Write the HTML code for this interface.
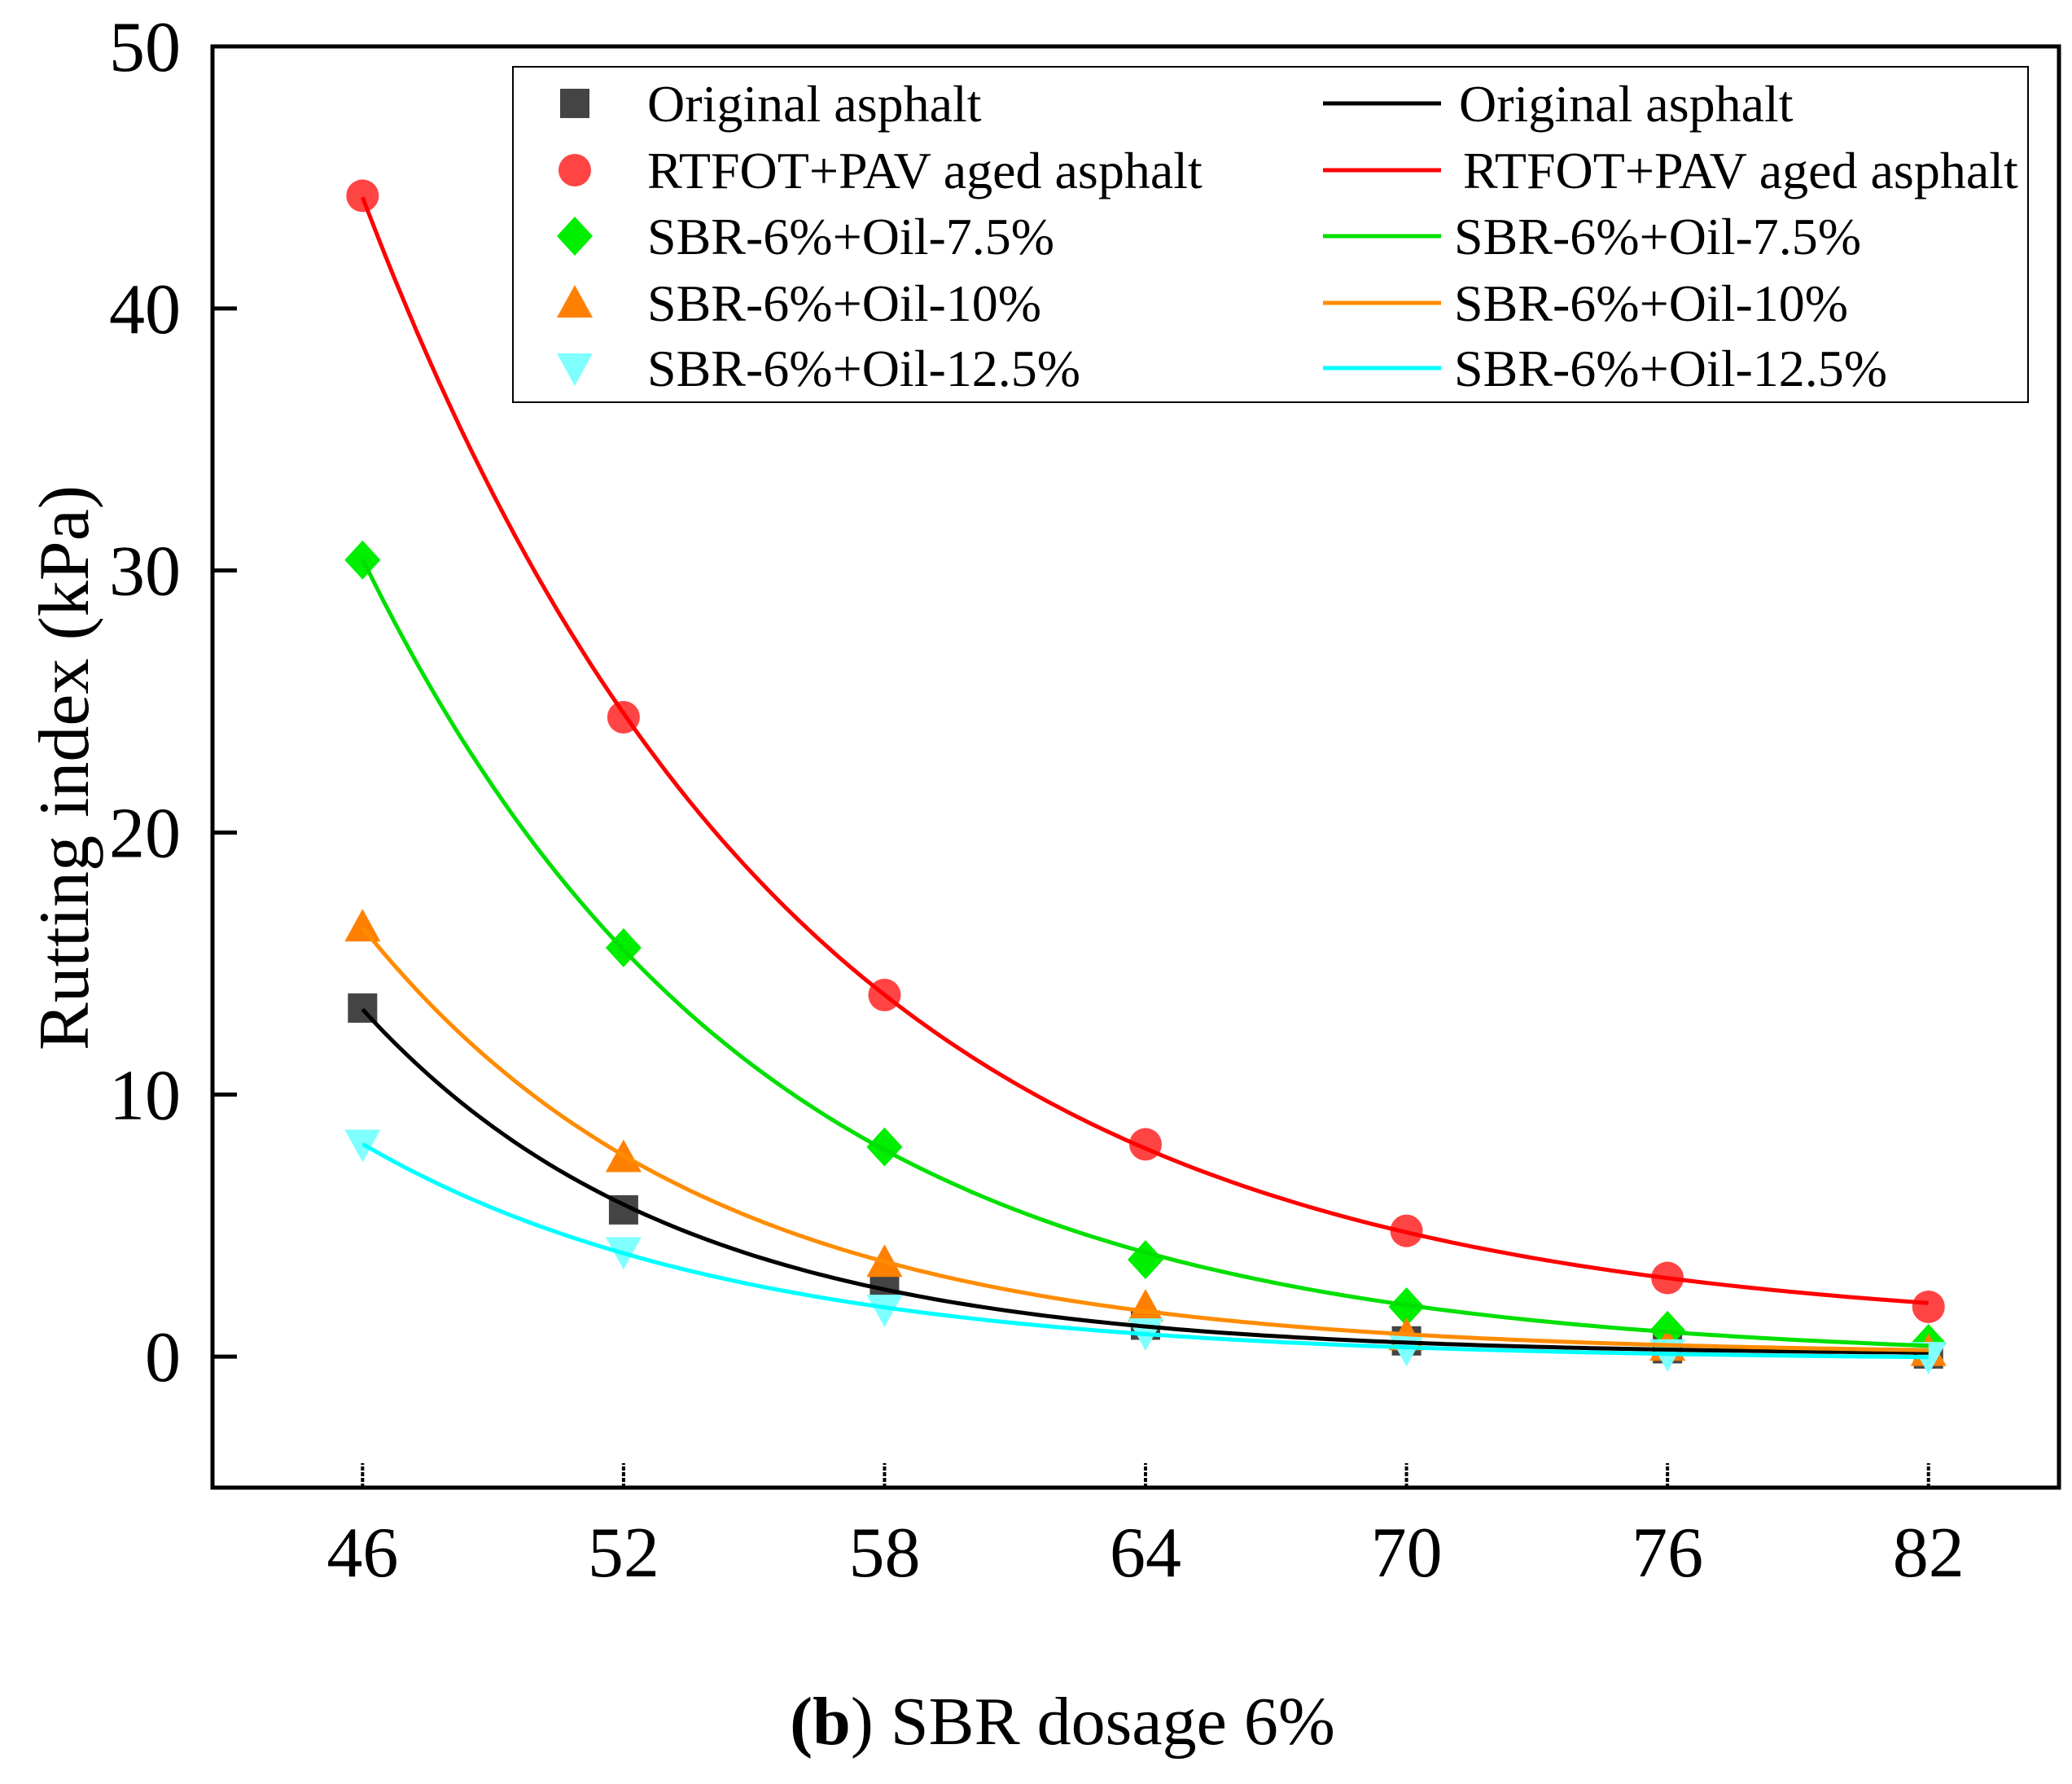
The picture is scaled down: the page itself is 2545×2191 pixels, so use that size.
<!DOCTYPE html>
<html><head><meta charset="utf-8"><style>
html,body{margin:0;padding:0;background:#fff;}
svg{display:block;}
text{font-family:"Liberation Serif",serif;}
</style></head><body>
<svg id="chart" width="2545" height="2191" viewBox="0 0 2545 2191" xmlns="http://www.w3.org/2000/svg" font-family="Liberation Serif, serif">
<rect x="0" y="0" width="2545" height="2191" fill="#fff"/>
<g id="plot"></g>
<text x="1305" y="2142" font-size="84" font-family="Liberation Serif, serif" text-anchor="middle"><tspan font-weight="bold">(b</tspan>) SBR dosage 6%</text>
<text transform="translate(108,943) rotate(-90)" font-size="88" font-family="Liberation Serif, serif" text-anchor="middle">Rutting index (kPa)</text>
</svg>
<script>
const categories = [46, 52, 58, 64, 70, 76, 82];
const seriesNames = ["Original asphalt", "RTFOT+PAV aged asphalt", "SBR-6%+Oil-7.5%", "SBR-6%+Oil-10%", "SBR-6%+Oil-12.5%"];
const originalValues = [13.3, 5.6, 2.7, 1.2, 0.6, 0.3, 0.1];
const agedValues = [44.3, 24.4, 13.8, 8.1, 4.8, 3.0, 1.9];
const oil75Values = [30.4, 15.6, 8.0, 3.7, 1.9, 1.0, 0.5];
const oil10Values = [16.4, 7.6, 3.6, 1.9, 0.8, 0.4, 0.2];
const oil125Values = [8.1, 4.0, 1.8, 0.9, 0.3, 0.1, 0.0];
const yTicks = [0, 10, 20, 30, 40, 50];
const xTicks = [46, 52, 58, 64, 70, 76, 82];

const NS = "http://www.w3.org/2000/svg";
const L = 261, R = 2529, T = 57, B = 1827;
const xMin = 42.55, xMax = 85.0, yMin = -5, yMax = 50;
function xs(v){ return L + (v - xMin) / (xMax - xMin) * (R - L); }
function ys(v){ return B - (v - yMin) / (yMax - yMin) * (B - T); }
const g = document.getElementById('plot');
function mk(tag, attrs, parent){ const e = document.createElementNS(NS, tag); for (const k in attrs) e.setAttribute(k, attrs[k]); (parent||g).appendChild(e); return e; }

const frame = mk('rect', {x:L, y:T, width:R-L, height:B-T, fill:'none', stroke:'#000', 'stroke-width':5});



yTicks.forEach(t => {
  const y = ys(t);
  const tk = mk('line', {x1:L, x2:L+30, y1:y, y2:y, stroke:'#000', 'stroke-width':5});
  
  
  const tx = mk('text', {x:222, y:y+30, 'font-size':88, 'font-family':'Liberation Serif, serif', 'text-anchor':'end'});
  tx.textContent = t;
  
  
});
xTicks.forEach(t => {
  const x = xs(t);
  const tk = mk('line', {x1:x, x2:x, y1:B, y2:B-30, stroke:'#000', 'stroke-width':4, 'stroke-dasharray':'5 2'});
  
  
  const tx = mk('text', {x:x, y:1936, 'font-size':88, 'font-family':'Liberation Serif, serif', 'text-anchor':'middle'});
  tx.textContent = t;
  
  
});

const allSeries = [originalValues, agedValues, oil75Values, oil10Values, oil125Values];
const lineColors = ['#000000', '#ff0000', '#00e000', '#ff8c00', '#00ffff'];
const markColors = ['#444444', '#ff4444', '#00ee00', '#ff8000', '#80ffff'];
const markShapes = ['square', 'circle', 'diamond', 'triangle', 'down'];

function fitExp(vals){
  // y = a*exp(b*(x-46)) + c, grid search on c with weighted log-linear fit
  const minY = Math.min.apply(null, vals);
  let best = null;
  for (let c = -3; c < minY - 0.02; c += 0.02) {
    let sw=0, sx=0, sy=0, sxx=0, sxy=0;
    categories.forEach((cx,i)=>{
      const y = vals[i]-c, w = y*y, x = cx-46, ly = Math.log(y);
      sw+=w; sx+=w*x; sy+=w*ly; sxx+=w*x*x; sxy+=w*x*ly;
    });
    const b = (sw*sxy - sx*sy)/(sw*sxx - sx*sx);
    const a = Math.exp((sy - b*sx)/sw);
    let sse = 0;
    categories.forEach((cx,i)=>{ const e = a*Math.exp(b*(cx-46))+c - vals[i]; sse += e*e; });
    if (!best || sse < best.sse) best = {a, b, c, sse};
  }
  return x => best.a*Math.exp(best.b*(x-46)) + best.c;
}
function marker(shape, cx, cy, color, parent){
  const s = 20; let e;
  if (shape==='square') e = mk('rect', {x:cx-s+2, y:cy-s+2, width:2*s-4, height:2*s-4, fill:color}, parent);
  else if (shape==='circle') e = mk('circle', {cx:cx, cy:cy, r:s, fill:color}, parent);
  else if (shape==='diamond') e = mk('polygon', {points:`${cx},${cy-s-4} ${cx+s+2},${cy} ${cx},${cy+s+4} ${cx-s-2},${cy}`, fill:color}, parent);
  else if (shape==='triangle') e = mk('polygon', {points:`${cx},${cy-s-2} ${cx+s+2},${cy+s-2} ${cx-s-2},${cy+s-2}`, fill:color}, parent);
  else e = mk('polygon', {points:`${cx},${cy+s+2} ${cx+s+2},${cy-s+2} ${cx-s-2},${cy-s+2}`, fill:color}, parent);
  return e;
}

allSeries.forEach((vals, si) => {
  const sg = mk('g', {});
  
  
  vals.forEach((v,i) => {
    const m = marker(markShapes[si], xs(categories[i]), ys(v), markColors[si], sg);
    
    
  });
});
allSeries.forEach((vals, si) => {
  const f = fitExp(vals);
  let d = '';
  for (let x = categories[0]; x <= categories[categories.length-1] + 1e-9; x += 0.25) {
    d += (d ? 'L' : 'M') + xs(x).toFixed(1) + ',' + ys(f(x)).toFixed(1);
  }
  const p = mk('path', {d:d, fill:'none', stroke:lineColors[si], 'stroke-width':5});
  
  
});

const lg = mk('g', {});


const lbox = mk('rect', {x:630, y:82, width:1861, height:412, fill:'#fff', stroke:'#000', 'stroke-width':2}, lg);


const rowY = [127, 209, 290, 372, 452];
seriesNames.forEach((n, i) => {
  const y = rowY[i];
  const m = marker(markShapes[i], 706, y, markColors[i], lg);
  
  
  const t1 = mk('text', {x:795, y:y+22, 'font-size':64, 'font-family':'Liberation Serif, serif'}, lg);
  t1.textContent = n;
  
  
  const ln = mk('line', {x1:1625, x2:1770, y1:y, y2:y, stroke:lineColors[i], 'stroke-width':5}, lg);
  
  
  const t2 = mk('text', {x:i===0?1792:(i===1?1797:1786), y:y+22, 'font-size':64, 'font-family':'Liberation Serif, serif'}, lg);
  t2.textContent = n;
  
  
});
</script>
</body></html>
